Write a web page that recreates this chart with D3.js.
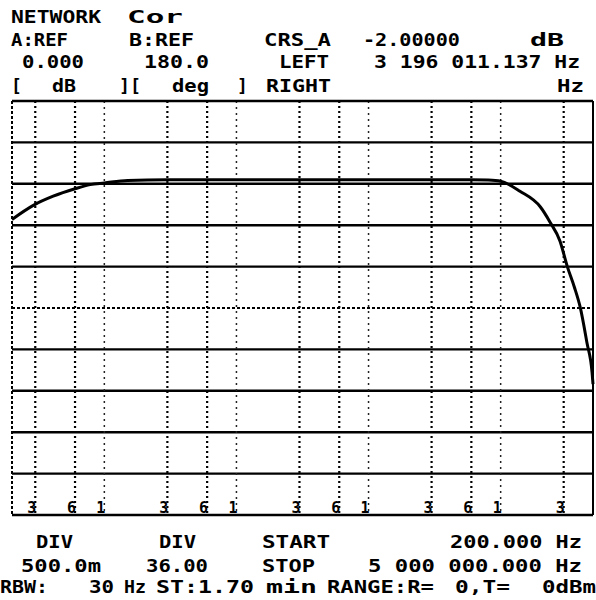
<!DOCTYPE html>
<html><head><meta charset="utf-8">
<script src="https://cdn.jsdelivr.net/npm/d3@7"></script>
<style>body{margin:0;background:#fff}svg{display:block}</style>
</head><body>
<svg id="c" width="596" height="600"></svg>
<script>
// ---- data ----
const freqHz = [200, 290, 410, 600, 780, 1000, 1500, 3000, 10000, 30000, 100000, 300000, 600000, 800000, 1000000, 1400000, 2000000, 2360000, 2810000, 3196011, 3600000, 4000000, 4500000, 4920000, 5000000];
const magDb  = [-1.43, -1.26, -1.15, -1.06, -1.01, -0.99, -0.96, -0.95, -0.95, -0.95, -0.95, -0.95, -0.95, -0.955, -0.97, -1.09, -1.28, -1.46, -1.69, -2.00, -2.24, -2.49, -2.92, -3.28, -3.42];
const gridFreqs = [300, 600, 1000, 3000, 6000, 10000, 30000, 60000, 100000, 300000, 600000, 1000000, 3000000];
const dbTicks = [0, -0.5, -1, -1.5, -2, -2.5, -3, -3.5, -4, -4.5, -5];
const freqDomain = [200, 5000000];
const dbDomain = [0, -5];
const headerRows = [
  ["NETWORK", "Cor"],
  ["A:REF", "B:REF", "CRS_A", "-2.00000", "dB"],
  ["0.000", "180.0", "LEFT", "3 196 011.137 Hz"],
  ["[", "dB", "][", "deg", "]", "RIGHT", "Hz"]
];
const footerRows = [
  ["DIV", "DIV", "START", "200.000 Hz"],
  ["500.0m", "36.00", "STOP", "5 000 000.000 Hz"],
  ["RBW:", "30", "Hz", "ST:1.70", "min", "RANGE:R=", "0,T=", "0dBm"]
];

// ---- layout ----
const L = 12, R = 593, T = 101, B = 515;
const svg = d3.select("#c");
const x = d3.scaleLog().domain(freqDomain).range([L, R]);
const y = d3.scaleLinear().domain(dbDomain).range([T, B]);
const font = "'DejaVu Sans Mono', 'Liberation Mono', monospace";
const isDecade = d => Math.abs(Math.log10(d) % 1) < 1e-9;

// horizontal grid
svg.append("g").selectAll("line").data(dbTicks.slice(1, -1)).join("line")
  .attr("x1", L).attr("x2", R)
  .attr("y1", d => y(d)).attr("y2", d => y(d))
  .attr("stroke", "#000")
  .attr("stroke-width", d => d === -2.5 ? 2 : 2.4)
  .attr("stroke-dasharray", d => d === -2.5 ? "3,2" : null);

// vertical dotted grid
svg.append("g").selectAll("line").data(gridFreqs).join("line")
  .attr("x1", d => x(d)).attr("x2", d => x(d))
  .attr("y1", T).attr("y2", B)
  .attr("stroke", d => isDecade(d) ? "#222" : "#000")
  .attr("stroke-width", d => isDecade(d) ? 1.5 : 2.2)
  .attr("stroke-dasharray", d => isDecade(d) ? "2,4" : "2,3");

// frame
svg.append("line").attr("x1", L).attr("x2", R).attr("y1", y(dbDomain[0])).attr("y2", y(dbDomain[0])).attr("stroke", "#000").attr("stroke-width", 2.5);
svg.append("line").attr("x1", L).attr("x2", R).attr("y1", y(dbDomain[1])).attr("y2", y(dbDomain[1])).attr("stroke", "#000").attr("stroke-width", 2.5);
svg.append("line").attr("x1", x(freqDomain[0])).attr("x2", x(freqDomain[0])).attr("y1", T).attr("y2", B).attr("stroke", "#000").attr("stroke-width", 2).attr("stroke-dasharray", "3,2");
svg.append("line").attr("x1", x(freqDomain[1])).attr("x2", x(freqDomain[1])).attr("y1", T).attr("y2", B).attr("stroke", "#000").attr("stroke-width", 2);

// grid labels at bottom
svg.append("g").selectAll("text").data(gridFreqs).join("text")
  .attr("x", d => x(d) + 1).attr("y", B - 2)
  .attr("text-anchor", "end")
  .attr("font-family", font).attr("font-weight", "bold").attr("font-size", 15)
  .text(d => String(d / Math.pow(10, Math.floor(Math.log10(d) + 1e-9))));

// trace
const pts = freqHz.map((f, i) => ({ f, v: magDb[i] }));
svg.append("path").datum(pts)
  .attr("fill", "none").attr("stroke", "#000").attr("stroke-width", 3)
  .attr("stroke-linejoin", "round")
  .attr("d", d3.line().x(d => x(d.f)).y(d => y(d.v)).curve(d3.curveMonotoneX));

// text
const headerSpans = [
  [[12, 100], [128, 182]],
  [[12, 67], [130, 193], [265, 330], [364, 459], [531, 563]],
  [[23, 83], [145, 208], [280, 328], [375, 579]],
  [[12, 0], [53, 75], [120, 140], [173, 208], [238, 0], [267, 330], [558, 583]]
];
const headerBase = [23, 46, 68, 92];
const footerSpans = [
  [[37, 72], [160, 195], [263, 329], [451, 581]],
  [[22, 100], [147, 207], [263, 314], [369, 581]],
  [[1, 47], [90, 113], [125, 145], [157, 253], [267, 316], [328, 433], [456, 509], [543, 595]]
];
const footerBase = [548, 572, 593];

function drawRows(rows, spans, bases) {
  rows.forEach((row, r) => {
    row.forEach((s, i) => {
      const [a, b] = spans[r][i];
      const t = svg.append("text")
        .attr("x", a - 1).attr("y", bases[r])
        .attr("font-family", font).attr("font-weight", "bold").attr("font-size", 18)
        .attr("fill", "#000").text(s);
      if (s.length > 1 && b > a) {
        t.attr("textLength", b - a + 2).attr("lengthAdjust", "spacingAndGlyphs");
      }
    });
  });
}
drawRows(headerRows, headerSpans, headerBase);
drawRows(footerRows, footerSpans, footerBase);
</script>
</body></html>
